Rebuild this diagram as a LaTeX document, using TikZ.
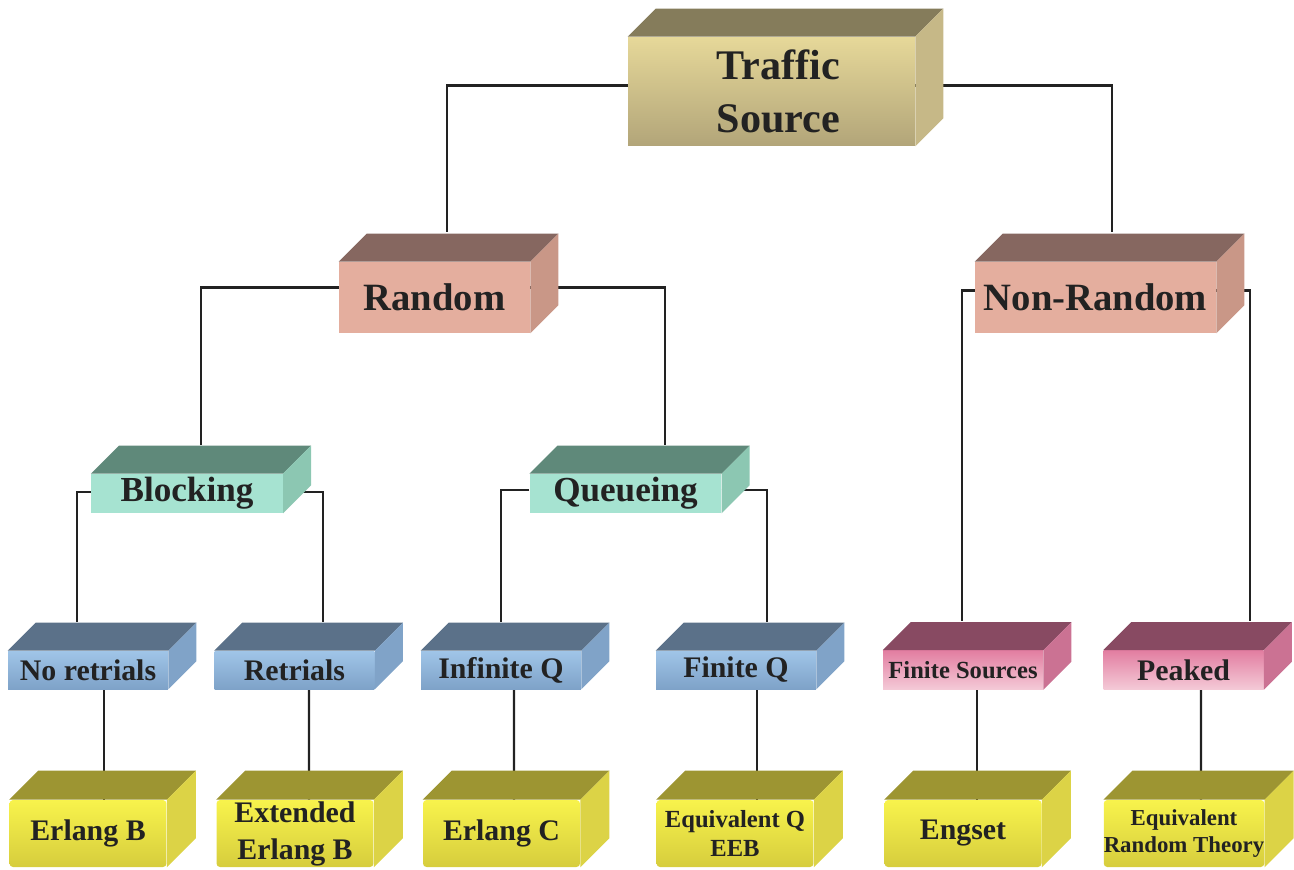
\documentclass[tikz,border=0pt]{standalone}
\usepackage{fontspec}
\setmainfont{Liberation Serif}
\usetikzlibrary{calc}
\usetikzlibrary{backgrounds}
\definecolor{txt}{HTML}{222222}
\definecolor{srcfront}{HTML}{E6D899}\definecolor{srcfrontb}{HTML}{B2A579}
\definecolor{srctop}{HTML}{857C5B}\definecolor{srcside}{HTML}{C6B887}
\definecolor{rndfront}{HTML}{E4AE9E}\definecolor{rndtop}{HTML}{866760}\definecolor{rndside}{HTML}{C99787}
\definecolor{grnfront}{HTML}{A6E3D1}\definecolor{grntop}{HTML}{5F897A}\definecolor{grnside}{HTML}{8CC7B2}
\definecolor{blufront}{HTML}{A0C5E8}\definecolor{blufrontb}{HTML}{7EA2C8}
\definecolor{blutop}{HTML}{5B7189}\definecolor{bluside}{HTML}{80A3C8}
\definecolor{pnkfront}{HTML}{E27EA1}\definecolor{pnkfrontb}{HTML}{F4CAD7}
\definecolor{pnktop}{HTML}{884A62}\definecolor{pnkside}{HTML}{CB7293}
\definecolor{ylwfront}{HTML}{F8F34C}\definecolor{ylwfrontb}{HTML}{D6CD3D}
\definecolor{ylwtop}{HTML}{9D9532}\definecolor{ylwside}{HTML}{DCD346}
\newcommand{\faces}[4]{% Syntax: {node}{top colour}{side colour}{depth}
  \fill[#2] (#1.north west) -- ++(#4,-#4) -- ($(#1.north east)+(#4,-#4)$) -- (#1.north east) -- cycle;
  \fill[#3] (#1.north east) -- ++(#4,-#4) -- ($(#1.south east)+(#4,-#4)$) -- (#1.south east) -- cycle; }
\tikzset{
  box/.style={inner sep=0pt, align=center, text=txt},
  srcbox/.style={box, minimum width=5.74cm, minimum height=2.18cm, top color=srcfront, bottom color=srcfrontb, font=\fontsize{24}{30}\selectfont\bfseries},
  rndbox/.style={box, minimum height=1.42cm, fill=rndfront, font=\fontsize{22}{26}\selectfont\bfseries},
  grnbox/.style={box, minimum width=3.83cm, minimum height=0.78cm, fill=grnfront, font=\fontsize{20}{24}\selectfont\bfseries},
  blubox/.style={box, minimum width=3.2cm, minimum height=0.76cm, top color=blufront, bottom color=blufrontb, font=\fontsize{17}{20}\selectfont\bfseries},
  pnkbox/.style={box, minimum width=3.2cm, minimum height=0.78cm, top color=pnkfront, bottom color=pnkfrontb, font=\fontsize{17}{20}\selectfont\bfseries},
  ylwbox/.style={box, minimum width=3.14cm, minimum height=1.34cm, top color=ylwfront, bottom color=ylwfrontb, rounded corners=2pt, font=\fontsize{17}{21}\selectfont\bfseries},
  link/.style={line width=1.3pt, draw=txt}
}
\begin{document}
\begin{tikzpicture}[x=0.02cm,y=-0.02cm]
	\useasboundingbox (0,0) rectangle (1294,869);
	
	%root
	\node[srcbox] (src) at (771.5,91.5) {\hspace*{8pt}Traffic\\\hspace*{8pt}Source};	\faces{src}{srctop}{srcside}{28}
	
	%level 1
	\node[rndbox,minimum width=3.82cm] (rnd) at (434.5,297.5) {Random};		\faces{rnd}{rndtop}{rndside}{28}
	\node[rndbox,minimum width=4.82cm] (nrnd) at (1095.5,297.5) {Non-Random};	\faces{nrnd}{rndtop}{rndside}{28}
	
	%level 2
	\node[grnbox] (blk) at (187,493.5) {Blocking};		\faces{blk}{grntop}{grnside}{28}
	\node[grnbox] (que) at (625.5,493.5) {Queueing};	\faces{que}{grntop}{grnside}{28}
	
	%level 3
	\node[blubox] (nore) at (88,670) {No retrials};		\faces{nore}{blutop}{bluside}{28}
	\node[blubox] (retr) at (294.5,670) {Retrials};		\faces{retr}{blutop}{bluside}{28}
	\node[blubox] (infq) at (501,670) {Infinite Q};		\faces{infq}{blutop}{bluside}{28}
	\node[blubox] (finq) at (736,670) {Finite Q};		\faces{finq}{blutop}{bluside}{28}
	\node[pnkbox,font=\fontsize{14}{17}\selectfont\bfseries] (fsrc) at (963,670) {Finite Sources};	\faces{fsrc}{pnktop}{pnkside}{28}
	\node[pnkbox] (peak) at (1183.5,670) {Peaked};		\faces{peak}{pnktop}{pnkside}{28}
	
	%level 4
	\node[ylwbox] (erlb) at (88,833.5) {Erlang B};		\faces{erlb}{ylwtop}{ylwside}{29}
	\node[ylwbox] (exeb) at (295,833.5) {Extended\\Erlang B};	\faces{exeb}{ylwtop}{ylwside}{29}
	\node[ylwbox] (erlc) at (501.5,833.5) {Erlang C};	\faces{erlc}{ylwtop}{ylwside}{29}
	\node[ylwbox,font=\fontsize{14}{16.5}\selectfont\bfseries] (eqq) at (735,833.5) {Equivalent Q\\EEB};	\faces{eqq}{ylwtop}{ylwside}{29}
	\node[ylwbox] (engs) at (963,833.5) {Engset};		\faces{engs}{ylwtop}{ylwside}{29}
	\node[ylwbox,font=\fontsize{13}{15}\selectfont\bfseries] (ert) at (1184,833.5) {Equivalent\\Random Theory};	\faces{ert}{ylwtop}{ylwside}{29}
	
	%connectors (behind the boxes)
	\begin{scope}[on background layer]
	\draw[link] ($(src.west)+(0,-6)$) -| ($(rnd.north)+(12.5,-30)$);
	\draw[link] ($(src.east)+(0,-6)$) -| ($(nrnd.north)+(16.5,-30)$);
	\draw[link] ($(rnd.west)+(0,-10)$) -| ($(blk.north)+(14,-29)$);
	\draw[link] ($(rnd.east)+(0,-10)$) -| ($(que.north)+(39.5,-29)$);
	\draw[link] ($(nrnd.west)+(0,-7)$) -| ($(fsrc.north)+(-1,-29)$);
	\draw[link] ($(nrnd.east)+(0,-7)$) -| ($(peak.north)+(66.5,-29)$);
	\draw[link] ($(blk.west)+(0,-1.5)$) -| ($(nore.north)+(-11,-29)$);
	\draw[link] ($(blk.east)+(0,-1.5)$) -| ($(retr.north)+(28.5,-29)$);
	\draw[link] ($(que.west)+(0,-3.5)$) -| ($(infq.north)+(0,-29)$);
	\draw[link] ($(que.east)+(0,-3.5)$) -| ($(finq.north)+(31,-29)$);
	%
	\draw[link] ($(nore.south)+(16,0)$) -- ($(erlb.north)+(16,0)$);
	\draw[link] ($(retr.south)+(14.5,0)$) -- ($(exeb.north)+(14,0)$);
	\draw[link] ($(infq.south)+(13,0)$) -- ($(erlc.north)+(12.5,0)$);
	\draw[link] ($(finq.south)+(21,0)$) -- ($(eqq.north)+(22,0)$);
	\draw[link] ($(fsrc.south)+(14,0)$) -- ($(engs.north)+(14,0)$);
	\draw[link] ($(peak.south)+(17.5,0)$) -- ($(ert.north)+(17,0)$);
	\end{scope}
	
\end{tikzpicture}
\end{document}
